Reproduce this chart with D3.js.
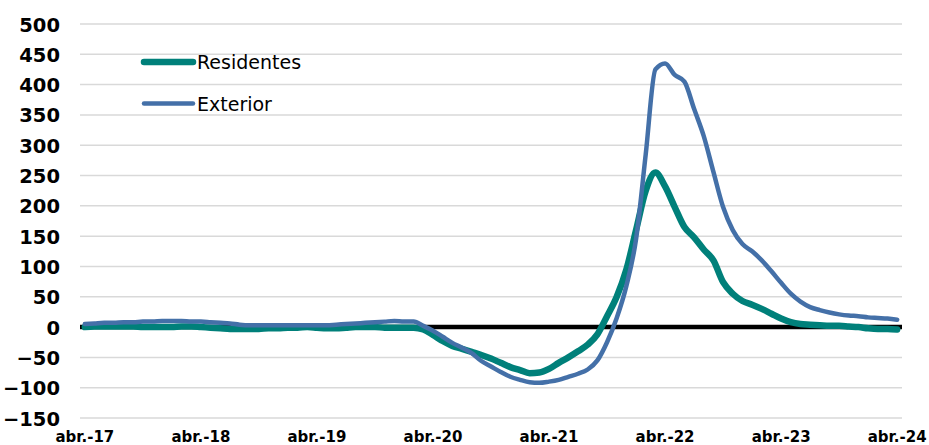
<!DOCTYPE html>
<html>
<head>
<meta charset="utf-8">
<script src="https://cdn.jsdelivr.net/npm/d3@7"></script>
<style>
html,body{margin:0;padding:0;background:#fff;}
svg{display:block;}
</style>
</head>
<body>
<svg id="chart" width="929" height="445"></svg>
<script>
// Monthly data, abr.-17 .. abr.-24 (85 months)
const months = d3.range(85);
const tickLabels = ["abr.-17","abr.-18","abr.-19","abr.-20","abr.-21","abr.-22","abr.-23","abr.-24"];
const yTicks = [-150,-100,-50,0,50,100,150,200,250,300,350,400,450,500];

const residentes = [
  0,1,1,1,1,1,0,0,0,0,1,1,
  0,-1,-2,-3,-3,-3,-3,-2,-2,-1,-1,0,
  -1,-2,-2,-1,0,0,0,-1,-1,-1,-1,-4,
  -13,-23,-31,-36,-41,-46,-52,-59,-66,-71,-76,-75,
  -69,-59,-50,-40,-29,-12,18,50,95,160,225,255,
  232,198,165,148,128,110,74,55,43,37,30,22,
  14,8,5,4,3,2,2,1,0,-2,-3,-3,
  -4
];
const exterior = [
  5,6,7,7,8,8,9,9,10,10,10,9,
  9,8,7,6,4,3,3,3,3,3,3,3,
  3,3,4,5,6,7,8,9,10,9,9,2,
  -6,-16,-26,-34,-43,-56,-65,-74,-82,-87,-91,-92,
  -90,-87,-82,-77,-70,-55,-25,15,68,145,285,425,
  435,416,405,360,315,256,198,160,137,125,110,92,
  73,55,42,33,28,24,21,19,18,16,15,14,
  12
];

const seriesNames = ["Residentes","Exterior"];
const colors = ["#00807A","#4470A8"];
const widths = [6.5,4.5];

const svg = d3.select("#chart");
const pLeft = 80, pRight = 902, pTop = 24, pBottom = 418;

const x = d3.scaleBand().domain(months).range([pLeft, pRight]);
const xc = i => x(i) + x.bandwidth()/2;
const y = d3.scaleLinear().domain([-150,500]).range([pBottom, pTop]);

// gridlines
svg.append("g").selectAll("line").data(yTicks.filter(d=>d!==0)).join("line")
  .attr("x1", pLeft).attr("x2", pRight)
  .attr("y1", d=>y(d)).attr("y2", d=>y(d))
  .attr("stroke","#d9d9d9").attr("stroke-width",1.5);

// y axis labels
const yAxis = d3.axisLeft(y).tickValues(yTicks).tickSize(0).tickPadding(0);
const gy = svg.append("g").attr("transform",`translate(60,0)`).call(yAxis);
gy.select(".domain").remove();
gy.selectAll("text")
  .attr("font-family","Verdana, 'DejaVu Sans', sans-serif")
  .attr("font-weight","bold").attr("font-size","19.5px").attr("fill","#000")
  .attr("dy","0.36em");

// x axis labels
const xAxis = d3.axisBottom(x).tickValues(months.filter(i=>i%12===0))
  .tickFormat(i=>tickLabels[i/12]).tickSize(0).tickPadding(0);
const gx = svg.append("g").attr("transform",`translate(0,430)`).call(xAxis);
gx.select(".domain").remove();
gx.selectAll("text")
  .attr("font-family","Verdana, 'DejaVu Sans', sans-serif")
  .attr("font-weight","bold").attr("font-size","15px").attr("fill","#000")
  .attr("dy","0.8em");

// zero line
svg.append("line").attr("x1",pLeft).attr("x2",pRight)
  .attr("y1",y(0)).attr("y2",y(0))
  .attr("stroke","#000").attr("stroke-width",4.5);

const line = d3.line().x((d,i)=>xc(i)).y(d=>y(d)).curve(d3.curveMonotoneX);

[residentes, exterior].forEach((s,k)=>{
  svg.append("path").datum(s)
    .attr("d", line)
    .attr("fill","none").attr("stroke",colors[k]).attr("stroke-width",widths[k])
    .attr("stroke-linejoin","round").attr("stroke-linecap","round");
});

// legend
const lg = svg.append("g");
[62,103.5].forEach((ly,k)=>{
  lg.append("line").attr("x1",144).attr("x2",193).attr("y1",ly).attr("y2",ly)
    .attr("stroke",colors[k]).attr("stroke-width",widths[k]).attr("stroke-linecap","round");
  lg.append("text").attr("x",197).attr("y",ly+7)
    .attr("font-family","Verdana, 'DejaVu Sans', sans-serif").attr("font-size","19px")
    .attr("fill","#000").text(seriesNames[k]);
});
</script>
</body>
</html>
